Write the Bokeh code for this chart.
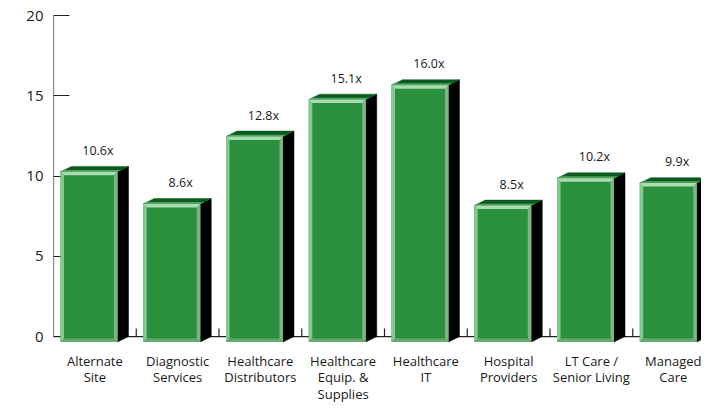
from bokeh.plotting import figure
from bokeh.models import Range1d, FixedTicker, ColumnDataSource
from bokeh.embed import file_html
from bokeh.resources import INLINE
from bokeh.core.properties import value

categories = ["Alternate\nSite", "Diagnostic\nServices", "Healthcare\nDistributors",
              "Healthcare\nEquip. &\nSupplies", "Healthcare\nIT", "Hospital\nProviders",
              "LT Care /\nSenior Living", "Managed\nCare"]
values = [10.6, 8.6, 12.8, 15.1, 16.0, 8.5, 10.2, 9.9]
value_labels = ["10.6x", "8.6x", "12.8x", "15.1x", "16.0x", "8.5x", "10.2x", "9.9x"]
y_ticks = [0, 5, 10, 15, 20]

FONT = "Open Sans"
W, H = 701, 405
LEFT, TOP = 53, 15
PX_X = 82.75          # pixels per category
PX_Y = 323 / 20       # pixels per unit
BELOW = 7             # frame extends 7px below zero

p = figure(width=W, height=H, output_backend="svg", toolbar_location=None,
           x_range=Range1d(0, (W - LEFT) / PX_X),
           y_range=Range1d(-BELOW / PX_Y, 20),
           min_border_left=LEFT, min_border_top=TOP, min_border_right=0,
           min_border_bottom=H - TOP - 330)
p.outline_line_color = None
p.xgrid.visible = False
p.ygrid.visible = False
p.background_fill_color = "white"
p.border_fill_color = "white"

n = len(values)

# baseline, boundary ticks and y axis line, drawn in data space
p.segment(x0=[0], y0=[0], x1=[n], y1=[0], line_color="#222222", line_width=1.2)
p.segment(x0=list(range(1, n + 1)), y0=[0] * n, x1=list(range(1, n + 1)), y1=[8 / PX_Y] * n,
          line_color="#222222", line_width=1.2)
p.segment(x0=[0], y0=[0], x1=[0], y1=[max(y_ticks)], line_color="#222222", line_width=1.2)

# geometry in data units
off = 7 / PX_X
fw = 57 / PX_X
dx = 11 / PX_X
d = 5.5 / PX_Y
bwx = 3.5 / PX_X
bwy = 3.5 / PX_Y

x0 = [i + off for i in range(n)]
x1 = [a + fw for a in x0]
yt = [v - d for v in values]
yb = [-d] * n

side_xs = [[x1[i], x1[i] + dx, x1[i] + dx, x1[i]] for i in range(n)]
side_ys = [[yt[i], values[i], 0, yb[i]] for i in range(n)]
top_xs = [[x0[i], x1[i], x1[i] + dx, x0[i] + dx] for i in range(n)]
top_ys = [[yt[i], yt[i], values[i], values[i]] for i in range(n)]
sf = 0.35
strip_xs = [[x0[i], x1[i], x1[i] + dx * sf, x0[i] + dx * sf] for i in range(n)]
strip_ys = [[yt[i], yt[i], yt[i] + d * sf, yt[i] + d * sf] for i in range(n)]

lvl = "annotation"
p.patches(side_xs, side_ys, fill_color="#000000", line_color="#000000", line_width=0.5, level=lvl)
p.patches(top_xs, top_ys, fill_color="#0b5a1f", line_color="#0b5a1f", line_width=0.5, level=lvl)
p.patches(strip_xs, strip_ys, fill_color="#4fa35c", line_color=None, level=lvl)
p.quad(left=x0, right=x1, bottom=yb, top=yt, fill_color="#2b903d", line_color=None, level=lvl)

# bevels
lb_xs = [[x0[i], x0[i] + bwx, x0[i] + bwx, x0[i]] for i in range(n)]
lb_ys = [[yb[i], yb[i] + bwy, yt[i] - bwy, yt[i]] for i in range(n)]
tb_xs = [[x0[i], x1[i], x1[i] - bwx, x0[i] + bwx] for i in range(n)]
tb_ys = [[yt[i], yt[i], yt[i] - bwy, yt[i] - bwy] for i in range(n)]
rb_xs = [[x1[i], x1[i], x1[i] - bwx, x1[i] - bwx] for i in range(n)]
rb_ys = [[yt[i], yb[i], yb[i] + bwy, yt[i] - bwy] for i in range(n)]
bb_xs = [[x0[i], x1[i], x1[i] - bwx, x0[i] + bwx] for i in range(n)]
bb_ys = [[yb[i], yb[i], yb[i] + bwy, yb[i] + bwy] for i in range(n)]
p.patches(lb_xs, lb_ys, fill_color="#86c98f", line_color=None, level=lvl)
p.patches(rb_xs, rb_ys, fill_color="#7fb487", line_color=None, level=lvl)
p.patches(bb_xs, bb_ys, fill_color="#63ab6e", line_color=None, level=lvl)
p.patches(tb_xs, tb_ys, fill_color="#a9dcb0", line_color=None, level=lvl)

# value labels
src = ColumnDataSource(dict(x=[i + 0.5 + 3 / PX_X for i in range(n)], y=values, t=value_labels))
p.text(x="x", y="y", text="t", source=src, text_font=value(FONT), text_font_size="12.5px",
       text_color="#1a1a1a", text_align="center", text_baseline="middle", y_offset=-16)

# axes
xa = p.xaxis[0]
xa.ticker = FixedTicker(ticks=[i + 0.5 for i in range(n)])
xa.major_label_overrides = {i + 0.5: categories[i] for i in range(n)}
xa.major_tick_line_color = None
xa.minor_tick_line_color = None
xa.axis_line_color = None
xa.major_tick_in = 0
xa.major_tick_out = 0
xa.major_label_text_font = FONT
xa.major_label_text_font_size = "13px"
xa.major_label_text_color = "#1a1a1a"
xa.major_label_text_line_height = 0.93
xa.major_label_standoff = 8

ya = p.yaxis[0]
ya.ticker = FixedTicker(ticks=y_ticks)
ya.axis_line_color = None
ya.major_tick_in = 16
ya.major_tick_out = 0
ya.major_tick_line_color = "#222222"
ya.major_tick_line_width = 1.2
ya.minor_tick_line_color = None
ya.major_label_text_font = FONT
ya.major_label_text_font_size = "15px"
ya.major_label_text_color = "#1a1a1a"
ya.major_label_standoff = 10

open("out.html", "w").write(file_html(p, INLINE))
